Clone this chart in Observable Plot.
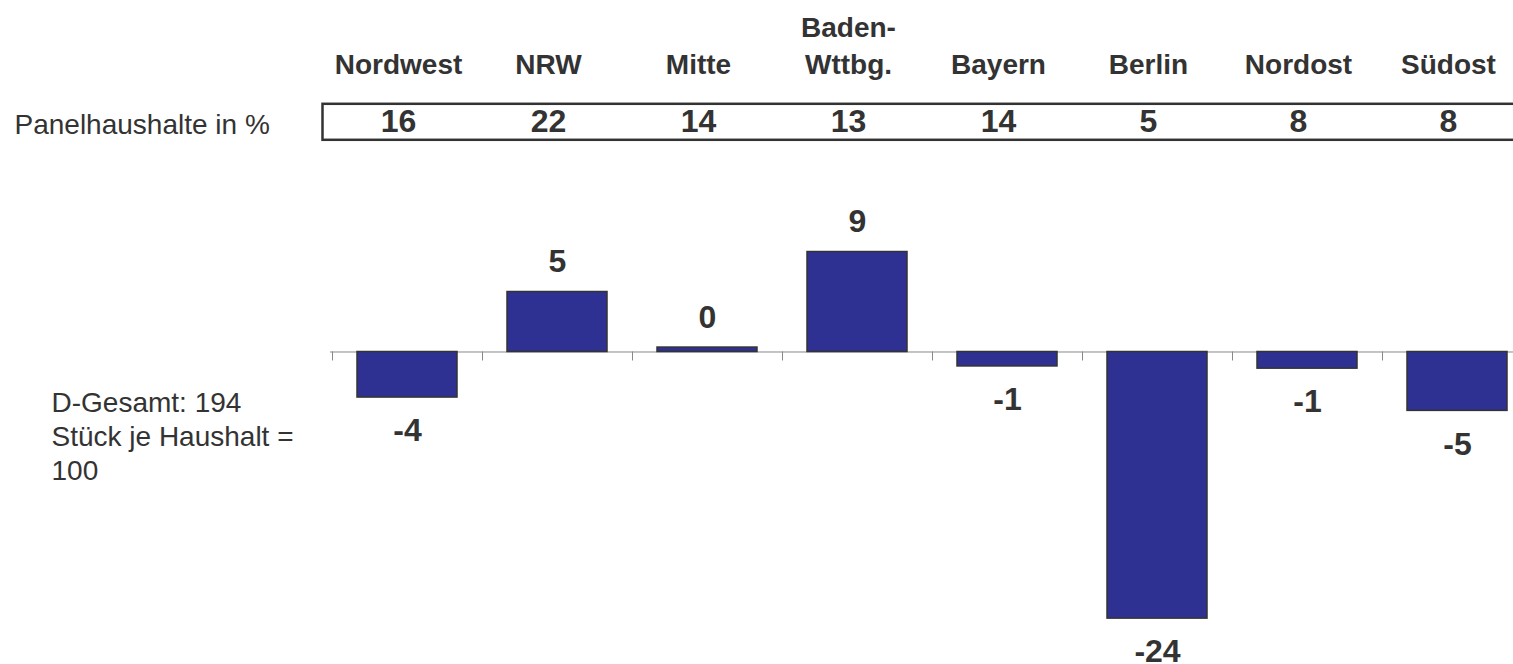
<!DOCTYPE html>
<html>
<head>
<meta charset="utf-8">
<script src="https://cdn.jsdelivr.net/npm/d3@7"></script>
<script src="https://cdn.jsdelivr.net/npm/@observablehq/plot@0.6"></script>
<style>
  html, body { margin: 0; padding: 0; background: #fff; overflow: hidden; }
  #chart svg { overflow: hidden; display: block; }
</style>
</head>
<body>
<div id="chart"></div>
<script>
// Data
const regions = ["Nordwest", "NRW", "Mitte", "Baden-\nWttbg.", "Bayern", "Berlin", "Nordost", "Südost"];
const panelShares = [16, 22, 14, 13, 14, 5, 8, 8];
const indexValues = [-4.1, 5.4, 0.4, 9.0, -1.3, -24.0, -1.5, -5.3];
const valueLabels = ["-4", "5", "0", "9", "-1", "-24", "-1", "-5"];
const rowLabel = "Panelhaushalte in %";
const noteText = "D-Gesamt: 194\nStück je Haushalt =\n100";

const data = regions.map((r, i) => ({region: r, share: panelShares[i], value: indexValues[i], label: valueLabels[i]}));

const textColor = "#333333";
const barColor = "#2E3192";
const font = "'Liberation Sans', Arial, Helvetica, sans-serif";

const chart = Plot.plot({
  width: 1513,
  height: 664,
  marginLeft: 332,
  marginRight: -19,
  marginTop: 0,
  marginBottom: 0,
  style: {fontFamily: font, color: textColor, background: "#fff"},
  x: {domain: regions, padding: 0, axis: null},
  y: {domain: [-28.13, 31.64], axis: null},
  marks: [
    // header: region names
    Plot.text(data, {x: "region", text: "region", frameAnchor: "top", dy: 73, dx: -9,
      lineAnchor: "bottom", lineHeight: 1.32, fontSize: 28, fontWeight: "bold", fill: textColor}),
    // panel share box
    Plot.frame({stroke: textColor, strokeWidth: 2.5, insetLeft: -10, insetTop: 103.3, insetBottom: 524.7}),
    Plot.text(data, {x: "region", text: d => String(d.share), frameAnchor: "top", dy: 131, dx: -9,
      lineAnchor: "bottom", fontSize: 32, fontWeight: "bold", fill: textColor}),
    // left labels
    Plot.text([rowLabel], {text: d => d, frameAnchor: "top-left", dx: -318, dy: 133,
      textAnchor: "start", lineAnchor: "bottom", fontSize: 28, fill: textColor}),
    Plot.text([noteText], {text: d => d, frameAnchor: "top-left", dx: -281, dy: 388,
      textAnchor: "start", lineAnchor: "top", lineHeight: 1.2, fontSize: 28, fill: textColor}),
    // baseline and category ticks
    Plot.ruleY([0], {stroke: "#888", strokeWidth: 1, insetLeft: -2}),
    Plot.ruleX(data, {x: "region", y1: 0, y2: 0, dx: -75, insetBottom: -9, stroke: "#888", strokeWidth: 1}),
    // bars
    Plot.barY(data, {x: "region", y: "value", fill: barColor, stroke: textColor, strokeWidth: 1.5,
      insetLeft: 25, insetRight: 25}),
    // value labels
    Plot.text(data.filter(d => d.value >= 0), {x: "region", y: "value", text: "label", dy: -20,
      lineAnchor: "bottom", fontSize: 32, fontWeight: "bold", fill: textColor}),
    Plot.text(data.filter(d => d.value < 0), {x: "region", y: "value", text: "label", dy: 21,
      lineAnchor: "top", fontSize: 32, fontWeight: "bold", fill: textColor})
  ]
});
document.getElementById("chart").append(chart);
</script>
</body>
</html>
